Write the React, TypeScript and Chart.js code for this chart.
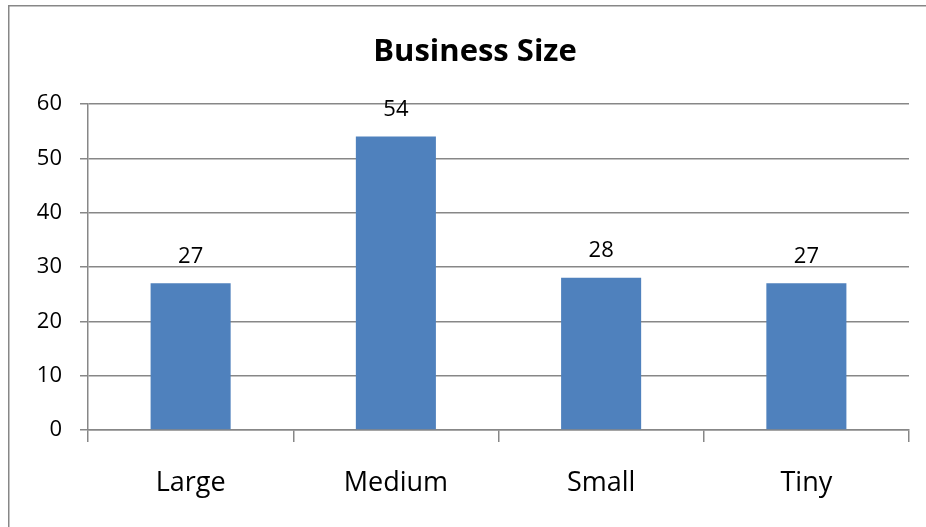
import React, { useEffect, useRef } from "react";
import { Chart, registerables } from "chart.js";

Chart.register(...registerables);

const categories = ["Large", "Medium", "Small", "Tiny"];
const values = [27, 54, 28, 27];
const yTicks = [0, 10, 20, 30, 40, 50, 60];
const chartTitle = "Business Size";

const FONT = "'Open Sans', 'DejaVu Sans', sans-serif";
const GRID = "#878787";

const framePlugin = {
  id: "frame",
  beforeDraw(chart: any) {
    const ctx = chart.ctx;
    ctx.save();
    ctx.fillStyle = "#ffffff";
    ctx.fillRect(0, 0, chart.width, chart.height);
    ctx.strokeStyle = GRID;
    ctx.lineWidth = 1.5;
    ctx.beginPath();
    ctx.moveTo(8.75, chart.height);
    ctx.lineTo(8.75, 5.75);
    ctx.lineTo(chart.width, 5.75);
    ctx.stroke();
    ctx.restore();
  },
};

const titlePlugin = {
  id: "customTitle",
  afterDraw(chart: any) {
    const ctx = chart.ctx;
    ctx.save();
    ctx.font = `bold 31px ${FONT}`;
    ctx.fillStyle = "#000";
    ctx.textAlign = "center";
    ctx.textBaseline = "middle";
    ctx.fillText(chartTitle, 475, 52);
    ctx.restore();
  },
};

const labelPlugin = {
  id: "valueLabels",
  afterDatasetsDraw(chart: any) {
    const ctx = chart.ctx;
    const meta = chart.getDatasetMeta(0);
    ctx.save();
    ctx.font = `22px ${FONT}`;
    ctx.fillStyle = "#000";
    ctx.textAlign = "center";
    ctx.textBaseline = "middle";
    meta.data.forEach((bar: any, i: number) => {
      ctx.fillText(String(values[i]), bar.x, bar.y - 27);
    });
    ctx.restore();
  },
};

export default function App() {
  const ref = useRef<HTMLCanvasElement | null>(null);

  useEffect(() => {
    if (!ref.current) return;
    const chart = new Chart(ref.current, {
      type: "bar",
      data: {
        labels: categories,
        datasets: [
          {
            data: values,
            backgroundColor: "#4F81BD",
            borderWidth: 0,
            barPercentage: 0.39,
            categoryPercentage: 1,
          },
        ],
      },
      options: {
        animation: false,
        responsive: false,
        devicePixelRatio: 1,
        layout: { padding: { top: 104, right: 17, left: 0, bottom: 0 } },
        plugins: {
          legend: { display: false },
          title: { display: false },
          tooltip: { enabled: false },
        },
        scales: {
          x: {
            grid: {
              offset: true,
              drawOnChartArea: false,
              drawTicks: true,
              tickLength: 12,
              color: GRID,
              lineWidth: 1.5,
            },
            border: { display: true, color: GRID, width: 1.5 },
            ticks: {
              color: "#000",
              font: { family: FONT, size: 27 },
              padding: 25,
              maxRotation: 0,
            },
            afterFit(scale: any) {
              scale.height = 97;
            },
          },
          y: {
            min: yTicks[0],
            max: yTicks[yTicks.length - 1],
            afterBuildTicks(scale: any) {
              scale.ticks = yTicks.map((v) => ({ value: v }));
            },
            grid: {
              color: GRID,
              lineWidth: 1.5,
              drawTicks: true,
              tickLength: 8,
            },
            border: { display: true, color: GRID, width: 1.5 },
            ticks: {
              color: "#000",
              font: { family: FONT, size: 22 },
              padding: 18,
            },
            afterFit(scale: any) {
              scale.width = 88;
            },
          },
        },
      },
      plugins: [framePlugin, titlePlugin, labelPlugin],
    });
    return () => chart.destroy();
  }, []);

  return (
    <div style={{ position: "fixed", left: 0, top: 0, width: 926, height: 527, background: "#fff" }}>
      <canvas ref={ref} width={926} height={527} style={{ display: "block" }} />
    </div>
  );
}
